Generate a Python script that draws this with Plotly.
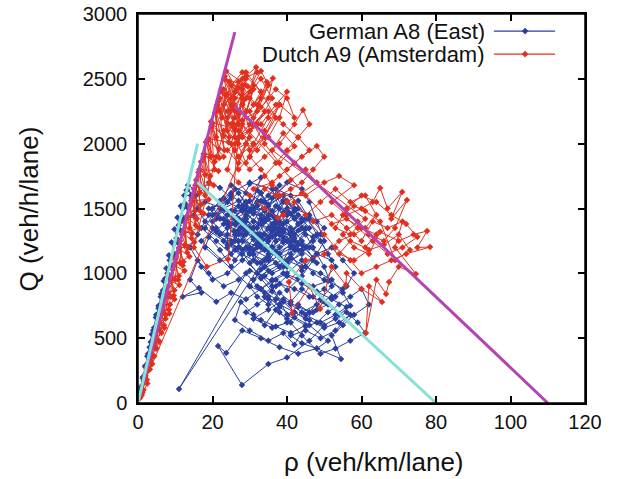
import plotly.graph_objects as go

# ================= data =================
# ---- German A8 (East): density rho (veh/km/lane), flow Q (veh/h/lane)
a8_free_up_rho = [0.2, 0.8, 0.7, 1.5, 1.3, 2.3, 2.0, 3.0, 2.7, 3.8,
                  3.4, 4.5, 4.1, 5.3, 4.8, 6.0, 5.5, 6.8, 6.2, 7.5,
                  6.9, 8.3, 7.6, 9.0, 8.3, 9.8, 9.0, 10.6, 9.8, 11.4,
                  10.6, 12.3, 11.5, 13.2, 12.4, 14.2, 13.4]
a8_free_up_q = [30, 80, 120, 170, 200, 260, 290, 340, 380, 430,
                470, 520, 560, 610, 660, 700, 750, 790, 840, 880,
                940, 970, 1040, 1060, 1140, 1150, 1240, 1240, 1340, 1330,
                1430, 1420, 1520, 1510, 1600, 1600, 1680]

a8_cong_rho = [
    16.5, 19, 22, 25, 21, 27, 30, 33, 29, 35, 38, 32, 36, 40, 43, 37, 33, 28, 24, 20,
    18, 22, 26, 31, 35, 39, 42, 45, 41, 38, 34, 30, 27, 23, 19, 16, 14, 17, 12, 16.4,
    21, 25, 29, 33, 37, 40, 44, 47, 50, 48, 46, 44, 40, 36, 31, 26, 23, 18, 15, 17,
    21, 25, 29, 33, 37, 41, 44, 47, 50, 52, 49, 46, 43, 40, 37, 34, 31, 27.6, 26, 30,
    35, 39, 42, 45, 48, 51, 54, 57, 60, 62, 58, 55, 52, 54.5, 48, 43, 38, 33, 28, 23.7,
    21.5, 27.9, 35, 40, 46, 50, 53, 56, 59, 61, 57, 53, 49, 44, 41, 38, 35, 32, 29, 11,
    36, 39, 42, 38, 34, 31, 28, 25, 22, 19, 23, 27, 31, 35, 39, 43, 46, 42, 38, 35,
    32, 36, 40, 44, 47, 50, 53, 51, 48, 45, 41, 37, 33, 29, 25, 22, 19, 16, 14, 17,
    20, 24, 28, 32, 36, 40, 44, 48, 52, 55, 58, 56, 53, 50, 47, 44, 41, 38, 35, 32,
    30, 33, 37, 41, 45, 49, 52, 55, 57, 54, 51, 48, 45, 42, 39, 36, 33, 30, 27, 24,
]
a8_cong_q = [
    1620, 1700, 1660, 1580, 1450, 1520, 1690, 1740, 1400, 1600, 1680, 1350, 1450, 1560, 1500, 1300, 1200, 1250, 1300, 1350,
    1200, 1100, 1180, 1100, 1250, 1380, 1420, 1300, 1200, 1050, 980, 1020, 950, 900, 1000, 1100, 950, 850, 820, 887,
    780, 850, 800, 880, 950, 870, 980, 1100, 1250, 1400, 1550, 1650, 1700, 1580, 1500, 1420, 1500, 1550, 1450, 1350,
    1250, 1150, 1300, 1420, 1520, 1460, 1350, 1200, 1050, 900, 800, 700, 760, 650, 720, 600, 680, 779, 640, 560,
    480, 540, 450, 590, 620, 700, 760, 820, 880, 760, 680, 600, 520, 340, 420, 380, 430, 500, 560, 386,
    440, 139, 300, 350, 480, 600, 650, 700, 620, 540, 480, 420, 380, 520, 620, 700, 800, 900, 1000, 108,
    1200, 1280, 1180, 1120, 1180, 1260, 1180, 1050, 1180, 1280, 1380, 1330, 1400, 1350, 1470, 1560, 1420, 1300, 1200, 1100,
    1000, 940, 1000, 1100, 1000, 950, 1050, 1150, 1300, 1450, 1600, 1650, 1560, 1620, 1680, 1560, 1450, 1300, 1200, 1050,
    950, 1000, 1100, 1200, 1320, 1400, 1250, 1150, 1200, 1100, 1000, 900, 820, 880, 820, 880, 780, 850, 760, 820,
    900, 1030, 1080, 1120, 1050, 1000, 950, 850, 750, 680, 760, 720, 650, 700, 780, 860, 960, 1080, 1200, 1220,
]

a8_core_rho = [
    24, 28, 32, 26, 30, 34, 38, 35, 31, 27,
    23, 29, 33, 37, 41, 36, 32, 28, 25, 30,
    34, 39, 44, 40, 36, 33, 29, 26, 31, 35,
    38, 42, 46, 43, 39, 35, 31, 27, 24, 28,
    33, 37, 41, 45, 49, 46, 42, 38, 34, 30,
    26, 22, 27, 32, 36, 40, 37, 33, 29, 25,
    21, 26, 31, 35, 39, 43, 47, 44, 40, 36,
    32, 28, 24, 29, 34, 38, 42, 39, 35, 31,
    27, 23, 20, 25, 30, 34, 37, 41, 45, 48,
    44, 40, 36, 33, 30, 35, 39, 43, 38, 34,
    31, 35, 40, 44, 48, 52, 49, 45, 41, 37,
    33, 29, 26, 32, 37, 42, 46, 50, 47, 43,
    39, 35, 31, 28, 34, 38, 42, 36, 30, 25,
    20, 18, 23, 28, 33, 38, 34, 30, 26, 22,
    19, 24, 29, 34, 39, 44, 41, 37, 33, 29,
]
a8_core_q = [
    1400, 1480, 1550, 1300, 1350, 1420, 1500, 1250, 1300, 1200,
    1250, 1450, 1380, 1430, 1350, 1280, 1230, 1350, 1480, 1560,
    1300, 1250, 1400, 1480, 1380, 1300, 1420, 1380, 1150, 1180,
    1330, 1270, 1350, 1450, 1550, 1450, 1350, 1400, 1350, 1500,
    1620, 1400, 1320, 1420, 1300, 1200, 1250, 1150, 1050, 1150,
    1250, 1300, 1420, 1280, 1350, 1450, 1600, 1450, 1520, 1600,
    1420, 1380, 1280, 1180, 1240, 1330, 1280, 1150, 1080, 1200,
    1300, 1400, 1450, 1550, 1480, 1380, 1480, 1600, 1530, 1460,
    1560, 1500, 1400, 1230, 1150, 1100, 1170, 1250, 1200, 1080,
    1180, 1050, 1000, 1080, 1200, 1280, 1340, 1220, 1150, 1050,
    950, 1020, 1100, 1050, 1150, 1100, 1250, 1350, 1300, 1350,
    1280, 1330, 1480, 1520, 1600, 1500, 1450, 1350, 1250, 1180,
    1050, 1120, 1180, 1300, 1400, 1300, 1200, 1650, 1700, 1620,
    1450, 1350, 1250, 1150, 1250, 1350, 1420, 1480, 1380, 1420,
    1500, 1550, 1480, 1500, 1600, 1420, 1320, 1250, 1380, 1320,
]

a8_core2_rho = [22, 25, 28, 31, 34, 37, 40, 43, 40, 36, 33, 30, 27, 24, 21, 24, 27, 30, 33, 36,
                39, 42, 45, 42, 39, 36, 33, 30, 27, 24, 26, 29, 32, 35, 38, 41, 44, 47, 44, 41,
                38, 35, 32, 29, 26, 23, 20, 23, 26, 29, 32, 35, 38, 41, 37, 33, 29, 25, 21, 17]
a8_core2_q = [1500, 1380, 1520, 1400, 1550, 1380, 1500, 1380, 1250, 1330, 1220, 1330, 1250, 1380, 1450,
              1550, 1620, 1480, 1620, 1480, 1560, 1430, 1340, 1200, 1320, 1200, 1300, 1180, 1300, 1200,
              1100, 1200, 1080, 1150, 1050, 1150, 1020, 1120, 1220, 1300, 1400, 1520, 1640, 1550, 1650,
              1580, 1500, 1420, 1320, 1420, 1300, 1420, 1300, 1220, 1150, 1250, 1350, 1250, 1350, 1250]

a8_low_rho = [
    30, 34, 38, 42, 46, 50, 47, 43, 39, 35,
    31, 36, 40, 44, 48, 52, 55, 51, 47, 43,
    39, 36, 33, 37, 41, 45, 49, 53, 56, 52,
    48, 44, 40, 37, 34, 38, 42, 46, 50, 54,
    57, 53, 49, 45, 41, 44, 48, 51, 46, 42,
    38, 35, 32, 29, 33, 37, 41, 45, 40, 36,
]
a8_low_q = [
    900, 850, 920, 880, 820, 780, 700, 740, 800, 720,
    650, 580, 620, 700, 760, 820, 880, 940, 900, 960,
    1000, 950, 880, 800, 760, 680, 620, 680, 740, 800,
    860, 920, 980, 900, 820, 760, 700, 640, 580, 620,
    680, 560, 500, 560, 520, 460, 420, 480, 600, 660,
    740, 820, 760, 700, 640, 590, 540, 600, 680, 900,
]

a8_free_down_rho = [21, 18, 16, 15.5, 13.0, 12.6, 12.0, 11.5, 10.9, 10.3, 9.7, 9.1, 8.5, 7.9,
                    7.3, 6.7, 6.1, 5.5, 4.9, 4.3, 3.7, 3.1, 2.5, 1.9, 1.3, 0.7, 0.3]
a8_free_down_q = [1320, 1400, 1500, 1600, 1640, 1540, 1500, 1400, 1370, 1270, 1230, 1130, 1100, 1000,
                  960, 870, 820, 730, 680, 580, 530, 430, 360, 280, 190, 100, 40]

# ---- Dutch A9 (Amsterdam)
a9_wedge_up_rho = [
    1.0, 2.5, 2.0, 3.8, 3.3, 5.0, 4.4, 6.3, 5.5, 7.4, 6.6, 8.6, 7.7, 9.8, 8.8, 11.0, 9.9, 12.2, 11.0, 13.4,
    12.1, 14.6, 13.2, 15.8, 14.3, 17.0, 15.4, 18.2, 16.5, 19.4, 17.6, 20.6, 18.7, 21.8, 19.8, 23.0, 20.9, 24.0,
    22.0, 25.0, 23.0, 26.0, 24.5, 27.0,
]
a9_wedge_up_q = [
    60, 150, 230, 300, 380, 420, 500, 540, 620, 650, 740, 760, 850, 870, 960, 980, 1080, 1090, 1200, 1200,
    1320, 1310, 1440, 1420, 1560, 1530, 1680, 1640, 1800, 1750, 1920, 1860, 2030, 1960, 2140, 2060, 2250, 2160,
    2350, 2260, 2420, 2350, 2480, 2430,
]

a9_top_rho = [25, 27, 24, 28, 26, 29, 31, 27, 30, 33, 29, 26, 28, 32, 35, 31, 28, 25, 27, 30,
              34, 37, 33, 29, 26, 24, 27, 31, 29, 26]
a9_top_q = [2350, 2480, 2200, 2380, 2100, 2250, 2420, 2050, 2150, 2350, 2000, 1950, 2180, 2250, 2450, 2300,
            2420, 2300, 2150, 1950, 2050, 2200, 2400, 2550, 2400, 2250, 2100, 2000, 1850, 2050]

a9_cong_rho = [
    29, 31.7, 30, 33, 34.6, 32, 36.2, 35, 31, 28, 30, 33, 37, 40, 38, 35, 32, 29, 27, 30,
    34, 38, 42, 44.3, 46, 43, 40, 37, 34, 31, 36, 40, 44, 48, 50, 47, 44, 41, 38,
    45, 50, 54, 58, 52, 56, 60, 63, 65, 67, 70.9, 68, 72.2, 69, 66, 62, 59, 55, 58, 62,
    65, 70, 74, 77.6, 75, 78.4, 72, 68, 64, 60, 57, 53, 50, 47, 52, 56, 60, 63, 67, 71,
    69, 74.6, 70, 67.4, 66.6, 64, 61.2, 62, 65.5, 60, 56, 55.8, 52, 48.9, 46, 41.4, 40.5, 45, 50, 54,
    58, 61, 64, 61, 57, 53, 49, 45, 42, 39, 37.6, 34, 30, 27, 24, 26, 28,
]
a9_cong_q = [
    2520, 2590, 2400, 2560, 2475, 2300, 2505, 2350, 2200, 2300, 2100, 2150, 2300, 2400, 2200, 2050, 1950, 2000, 1900, 1800,
    1900, 2000, 2150, 2260, 2150, 2050, 1950, 1850, 1750, 1650, 1700, 1800, 1900, 1982, 1900, 1800, 1700, 1650, 1600,
    1600, 1700, 1750, 1680, 1550, 1450, 1500, 1550, 1658, 1500, 1627, 1420, 1566, 1350, 1250, 1300, 1400, 1300, 1200, 1150,
    1320, 1250, 1300, 1326, 1200, 1203, 1150, 1100, 1050, 1000, 1100, 1200, 1300, 1400, 1450, 1350, 1250, 1400, 1350, 1400,
    1200, 995, 1050, 933, 841, 950, 540, 900, 779, 880, 1000, 910, 1050, 725, 900, 694, 933, 1100, 1150, 1250,
    1300, 1350, 1450, 1600, 1550, 1650, 1550, 1450, 1550, 1450, 1427, 1500, 1600, 1700, 1800, 2000, 2150,
]

a9_right_rho = [52, 56, 60, 64, 61, 57, 54, 58, 62, 66, 70, 73, 69, 65, 61, 58, 55, 59, 63, 67,
                71, 75, 72, 68, 64, 60, 56, 53, 57, 61]
a9_right_q = [1380, 1420, 1350, 1300, 1200, 1250, 1150, 1100, 1180, 1220, 1300, 1180, 1100, 1400, 1480,
              1520, 1450, 1350, 1250, 1150, 1200, 1280, 1380, 1450, 1550, 1600, 1500, 1350, 1300, 1420]

a9_mid_rho = [36, 39, 42, 38, 34, 31, 35, 39, 43, 46, 42, 38, 34, 37, 41, 45, 48, 44, 40, 36,
              33, 30, 34, 38, 42, 40, 37, 33, 30, 28]
a9_mid_q = [1950, 2080, 1980, 1850, 2000, 2150, 2250, 2150, 2050, 1950, 1850, 1750, 1650, 1600, 1720,
            1800, 1700, 1620, 1550, 1680, 1800, 1900, 2100, 2300, 2200, 2350, 2420, 2280, 2350, 2450]

a9_wedge_down_rho = [
    24.2, 18.5, 15.0, 21, 25.5, 23.5, 22.5, 21.2, 21.0, 19.6, 19.5, 18.2, 18.0, 16.9, 16.6, 15.6, 15.2, 14.4,
    13.9, 13.1, 12.6, 11.8, 11.3, 10.6, 10.0, 9.3, 8.7, 8.1, 7.4, 6.8, 6.1, 5.6, 4.8, 4.3, 3.6, 3.0,
    2.4, 1.8, 1.2, 0.6,
]
a9_wedge_down_q = [
    1110, 1050, 1200, 1900, 2300, 2380, 2200, 2300, 2050, 2170, 1900, 2010, 1760, 1860, 1620, 1720, 1480, 1580,
    1350, 1440, 1220, 1300, 1080, 1160, 950, 1030, 820, 900, 680, 760, 550, 620, 420, 480, 300, 340,
    180, 200, 80, 40,
]

a9_wedge2_rho = [1.5, 1.2, 2.8, 2.4, 4.2, 3.7, 5.6, 5.0, 7.0, 6.3, 8.3, 7.5, 9.6, 8.8, 10.8, 10.0,
                 12.0, 11.3, 13.2, 12.6, 14.4, 13.8, 15.5, 15.0, 16.7, 16.2, 18.0, 17.6, 19.2, 18.7,
                 20.5, 19.7, 21.8, 20.7, 23.2, 21.6, 24.5, 22.4, 25.8, 23.1, 27.0, 23.3, 28.0, 23.7, 29.0]
a9_wedge2_q = [100, 140, 250, 280, 360, 420, 480, 560, 600, 700, 720, 840, 830, 980, 950, 1110,
               1060, 1250, 1160, 1390, 1270, 1520, 1370, 1650, 1480, 1780, 1600, 1900, 1700, 2020,
               1800, 2130, 1890, 2240, 1950, 2330, 2050, 2420, 2150, 2500, 2250, 2520, 2350, 2560, 2450]

a9_wedge3_rho = [3.2, 2.0, 4.4, 3.1, 5.7, 4.2, 7.1, 5.3, 8.4, 6.4, 9.8, 7.6, 11.1, 8.7, 12.5, 9.8,
                 13.8, 11.0, 15.1, 12.1, 16.4, 13.2, 17.7, 14.4, 19.0, 15.5, 20.3, 16.6, 21.6, 17.8,
                 23.0, 18.9, 24.3, 20.0, 25.7, 21.1, 27.0, 22.2, 28.3, 23.2, 29.5]
a9_wedge3_q = [260, 210, 360, 330, 470, 450, 580, 570, 690, 690, 800, 820, 910, 940, 1020, 1060,
               1130, 1190, 1240, 1310, 1350, 1430, 1460, 1560, 1570, 1680, 1680, 1800, 1790, 1920,
               1900, 2040, 2010, 2160, 2120, 2280, 2230, 2400, 2340, 2500, 2440]

a9_top2_rho = [23, 26, 29, 25, 28, 31, 27, 24, 30, 33, 28, 25, 22, 26, 30, 34, 31, 27, 24, 28,
               32, 36, 33, 29, 26, 23, 27, 31, 35, 38, 34, 30, 27, 25, 29, 32, 28, 24, 26, 30]
a9_top2_q = [2300, 2400, 2500, 2150, 2300, 2450, 2000, 2100, 2250, 2400, 2550, 2450, 2250, 2050, 2100,
             2250, 2150, 1850, 1950, 2050, 2150, 2350, 2500, 2350, 2200, 2100, 1900, 2000, 2200, 2300,
             2050, 1900, 1800, 2000, 2350, 2550, 2500, 2380, 2250, 2050]

# Reference fundamental-diagram lines (triangular shape)
fd_a9_rho = [0, 26, None, 26, 110]
fd_a9_q = [0, 2860, None, 2290, 0]
fd_a8_rho = [0, 16, None, 16, 80]
fd_a8_q = [0, 2000, None, 1700, 0]

x_ticks = [0, 20, 40, 60, 80, 100, 120]
y_ticks = [0, 500, 1000, 1500, 2000, 2500, 3000]
series_names = ["German A8 (East)", "Dutch A9 (Amsterdam)"]

a8_parts = [(a8_free_up_rho, a8_free_up_q), (a8_cong_rho, a8_cong_q), (a8_core_rho, a8_core_q),
            (a8_core2_rho, a8_core2_q), (a8_low_rho, a8_low_q), (a8_free_down_rho, a8_free_down_q)]
a9_parts = [(a9_wedge_up_rho, a9_wedge_up_q), (a9_top_rho, a9_top_q), (a9_cong_rho, a9_cong_q),
            (a9_right_rho, a9_right_q), (a9_mid_rho, a9_mid_q), (a9_wedge_down_rho, a9_wedge_down_q),
            (a9_wedge2_rho, a9_wedge2_q), (a9_top2_rho, a9_top2_q), (a9_wedge3_rho, a9_wedge3_q)]
for r_, q_ in a8_parts + a9_parts:
    assert len(r_) == len(q_), (len(r_), len(q_))
a8_rho = [v for r_, _ in a8_parts for v in r_]
a8_q = [v for _, q_ in a8_parts for v in q_]
a9_rho = [v for r_, _ in a9_parts for v in r_]
a9_q = [v for _, q_ in a9_parts for v in q_]

# ================= styling =================
BLUE = "#2b3f9f"
RED = "#e2301f"
MAGENTA = "#b443b4"
CYAN = "#86e2d8"
INK = "black"
TXT = "#111"
FONT = "Liberation Sans, Arial, sans-serif"

fig = go.Figure()
fig.add_trace(go.Scatter(
    x=a8_rho, y=a8_q, mode="lines+markers", name=series_names[0],
    line=dict(color=BLUE, width=1), marker=dict(color=BLUE, size=5, symbol="diamond"),
))
fig.add_trace(go.Scatter(
    x=a9_rho, y=a9_q, mode="lines+markers", name=series_names[1],
    line=dict(color=RED, width=1), marker=dict(color=RED, size=5, symbol="diamond"),
))
fig.add_trace(go.Scatter(x=fd_a9_rho, y=fd_a9_q, mode="lines", line=dict(color=MAGENTA, width=3),
                         showlegend=False, connectgaps=False))
fig.add_trace(go.Scatter(x=fd_a8_rho, y=fd_a8_q, mode="lines", line=dict(color=CYAN, width=3),
                         showlegend=False, connectgaps=False))

# gnuplot-style key: text right-aligned, sample to its right
key_rows = [(series_names[0], BLUE, 0.956), (series_names[1], RED, 0.897)]
shapes = [dict(type="rect", xref="paper", yref="paper", x0=0, x1=1, y0=0, y1=1,
               line=dict(color=INK, width=1.5), fillcolor="rgba(0,0,0,0)", layer="above")]
annotations = []
for label, col, yy in key_rows:
    annotations.append(dict(x=0.778, y=yy, xref="paper", yref="paper", text=label, showarrow=False,
                            xanchor="right", yanchor="middle", borderpad=0,
                            font=dict(family=FONT, size=22, color=TXT)))
    shapes.append(dict(type="line", xref="paper", yref="paper", x0=0.796, x1=0.933, y0=yy, y1=yy,
                       line=dict(color=col, width=1.2)))
    dx, dy = 0.007, 0.008
    cx = 0.866
    shapes.append(dict(type="path", xref="paper", yref="paper",
                       path=f"M {cx-dx} {yy} L {cx} {yy+dy} L {cx+dx} {yy} L {cx} {yy-dy} Z",
                       fillcolor=col, line=dict(color=col, width=0.5)))

# axis titles
annotations.append(dict(x=-0.244, y=0.5, xref="paper", yref="paper", text="Q (veh/h/lane)", textangle=-90,
                        showarrow=False, xanchor="center", yanchor="middle",
                        font=dict(family=FONT, size=26, color=TXT)))
annotations.append(dict(x=0.529, y=-0.152, xref="paper", yref="paper", text="ρ (veh/km/lane)",
                        showarrow=False, xanchor="center", yanchor="middle",
                        font=dict(family=FONT, size=26, color=TXT)))

axis_common = dict(ticks="inside", ticklen=7, tickcolor=INK, tickwidth=1.5,
                   showline=True, linecolor=INK, linewidth=1.5, mirror="ticks",
                   showgrid=False, zeroline=False, ticklabeloverflow="allow",
                   tickfont=dict(family=FONT, size=20, color=TXT))

fig.update_layout(
    width=617, height=479,
    margin=dict(l=138, r=32, t=14, b=76),
    paper_bgcolor="white", plot_bgcolor="white",
    showlegend=False,
    font=dict(family=FONT, size=20, color=TXT),
    shapes=shapes, annotations=annotations,
    xaxis=dict(range=[0, 120], tickvals=x_ticks, automargin="bottom", **axis_common),
    yaxis=dict(range=[0, 3000], tickvals=y_ticks, automargin="left", ticklabelstandoff=5, **axis_common),
)

# the page body must not add its default 8px margin around the fixed-size figure
fig.write_html("out.html", config={"displayModeBar": False},
               post_script="document.body.style.margin='0px';")
